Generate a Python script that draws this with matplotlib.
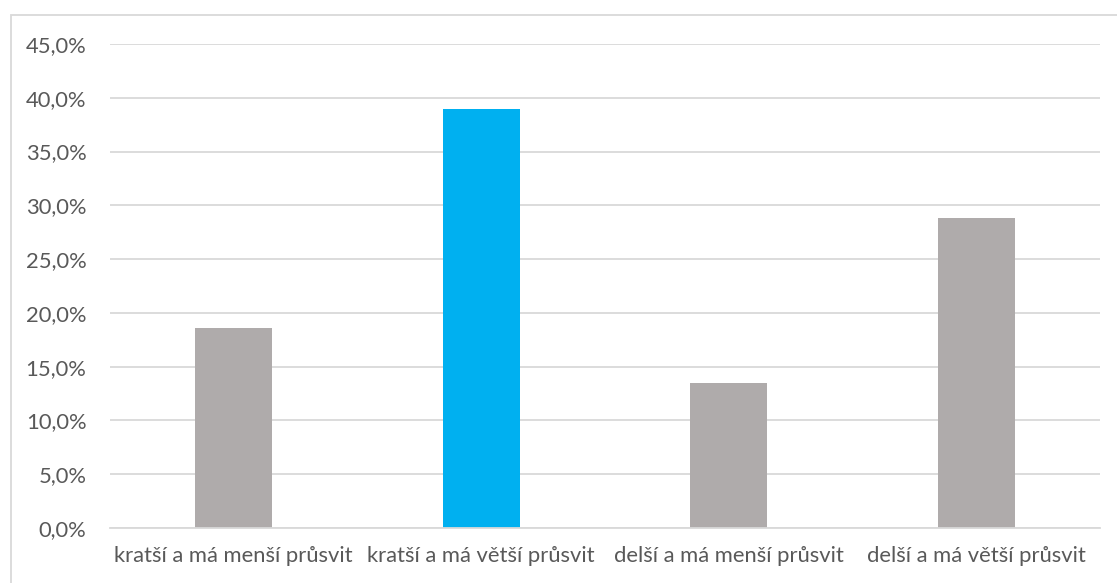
import matplotlib
matplotlib.use("Agg")
import matplotlib.pyplot as plt
from matplotlib.patches import Rectangle
from matplotlib.ticker import FuncFormatter, MultipleLocator

categories = ["kratší a má menší průsvit", "kratší a má větší průsvit",
              "delší a má menší průsvit", "delší a má větší průsvit"]
values = [18.6, 39.0, 13.5, 28.8]
colors = ["#AFABAB", "#00B0F0", "#AFABAB", "#AFABAB"]

plt.rcParams['font.family'] = ['Lato', 'DejaVu Sans']
text_color = "#595959"
grid_color = "#D9D9D9"

fig = plt.figure(figsize=(11.17, 5.83), dpi=100)
ax = fig.add_axes([110/1117, (583-528)/583, 990/1117, (528-44)/583])

x = list(range(len(categories)))
ax.bar(x, values, width=0.313, color=colors, zorder=3)

ax.set_xlim(-0.5, len(categories) - 0.5)
ax.set_ylim(0, 45)
ax.yaxis.set_major_locator(MultipleLocator(5))
ax.yaxis.set_major_formatter(FuncFormatter(lambda v, p: f"{v:.1f}%".replace('.', ',')))
ax.set_xticks(x)
ax.set_xticklabels(categories)

ax.grid(axis='y', color=grid_color, linewidth=1.3, zorder=0)
for s in ['top', 'right', 'left']:
    ax.spines[s].set_visible(False)
ax.spines['bottom'].set_color(grid_color)
ax.spines['bottom'].set_linewidth(1.3)
ax.spines['bottom'].set_zorder(4)

ax.tick_params(axis='both', length=0, colors=text_color, labelsize=15.8)
ax.tick_params(axis='y', pad=17)
ax.tick_params(axis='x', pad=13)

fig.patches.append(Rectangle((11/1117, -0.1), 1.2, (583-15)/583 + 0.1,
                             transform=fig.transFigure, fill=False,
                             edgecolor=grid_color, linewidth=1.3))

fig.savefig("out.png", dpi=100)
